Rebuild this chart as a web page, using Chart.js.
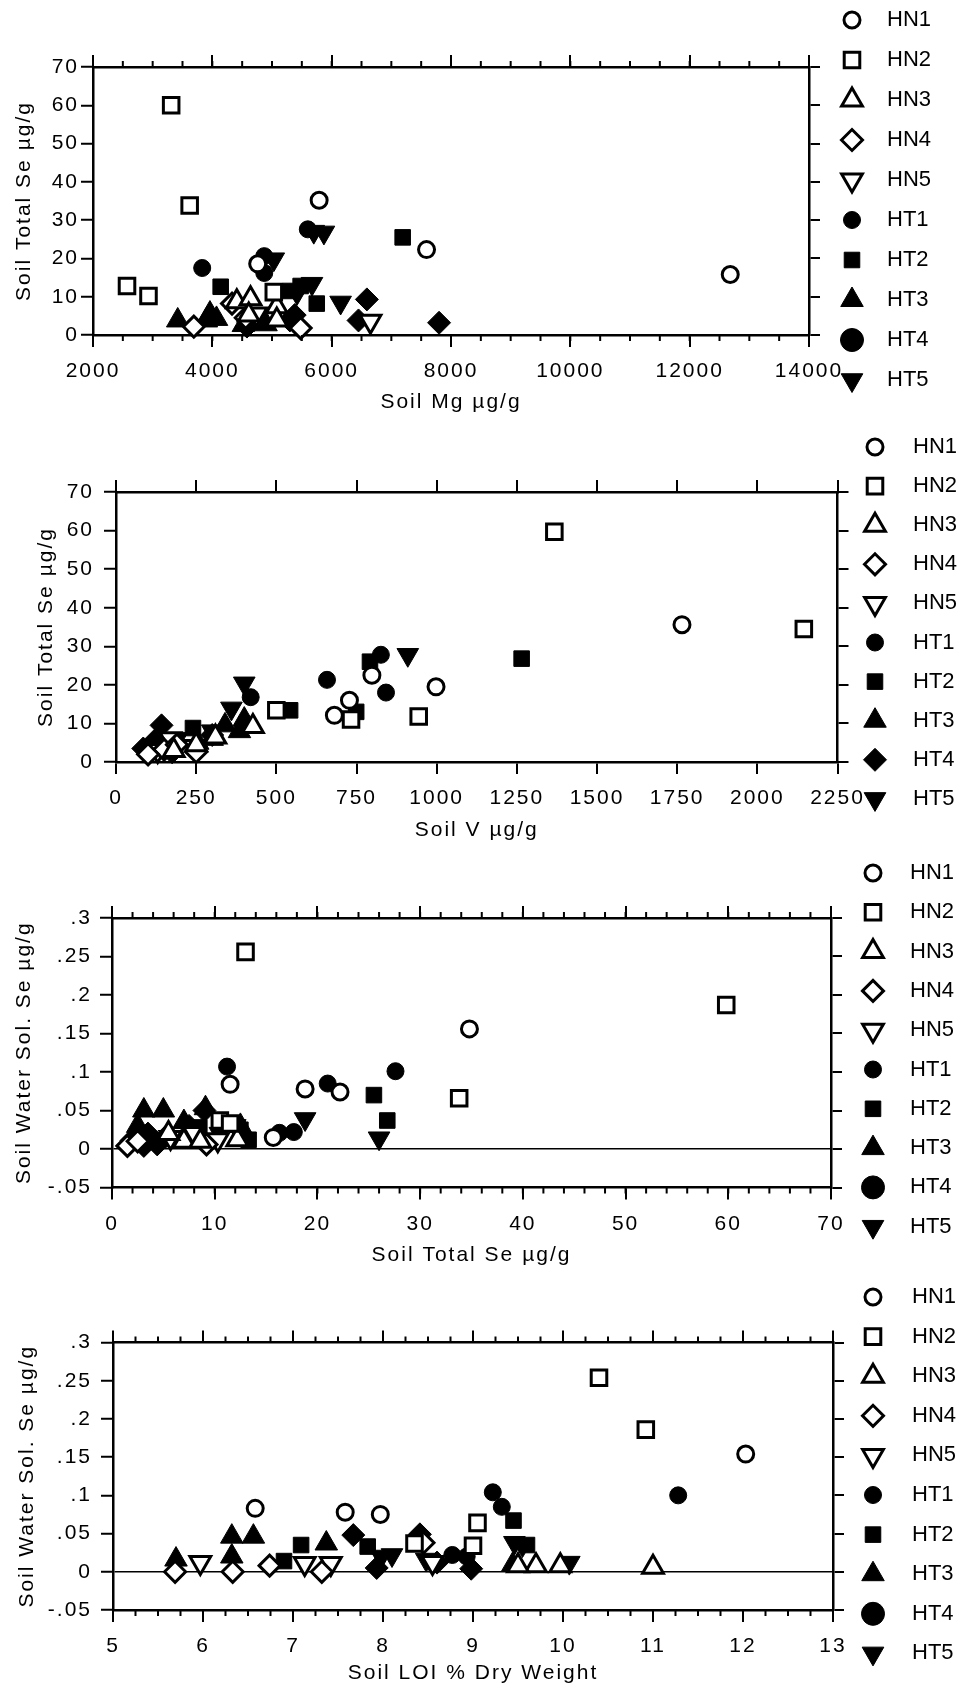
<!DOCTYPE html>
<html>
<head>
<meta charset="utf-8">
<script src="https://cdn.jsdelivr.net/npm/chart.js@4.4.1/dist/chart.umd.min.js"></script>
<style>
  body { margin: 0; background: #fff; }
  canvas { position: absolute; left: 0; }
</style>
</head>
<body>
<canvas id="chart-mg" width="962" height="420" style="top:0px"></canvas>
<canvas id="chart-v" width="962" height="425" style="top:420px"></canvas>
<canvas id="chart-se" width="962" height="425" style="top:845px"></canvas>
<canvas id="chart-loi" width="962" height="420" style="top:1270px"></canvas>
<script>
const seriesNames = ['HN1', 'HN2', 'HN3', 'HN4', 'HN5', 'HT1', 'HT2', 'HT3', 'HT4', 'HT5'];

// soil Mg vs soil total Se
const mgHN1 = [[5790, 35.2], [7590, 22.3], [12680, 15.8], [4760, 18.6]];
const mgHN2 = [[2570, 12.8], [2930, 10.2], [3310, 60], [3620, 33.8], [5030, 11.2]];
const mgHN3 = [[4410, 8.7], [4640, 9.5], [5080, 7.4], [4610, 5.2], [5080, 3.9]];
const mgHN4 = [[3690, 2.2], [4330, 8.2], [5480, 1.8], [4560, 4.5]];
const mgHN5 = [[6650, 3.6], [4740, 5.5]];
const mgHT1 = [[3830, 17.5], [4870, 20.6], [4870, 16.2], [5600, 27.6]];
const mgHT2 = [[4140, 12.6], [5310, 11.5], [5750, 8.2], [7190, 25.5], [5480, 12.8]];
const mgHT3 = [[3420, 3.8], [3960, 5.6], [3900, 3.8], [4070, 4.2], [4520, 2.6], [4900, 2.8]];
const mgHT4 = [[6590, 9.3], [6450, 3.8], [7800, 3.2], [5380, 5.2], [4580, 2.2], [5300, 3.8]];
const mgHT5 = [[5870, 26.8], [5700, 27], [5030, 19.8], [5670, 13.4], [6150, 8.5], [5420, 11]];

// soil V vs soil total Se
const vHN1 = [[681, 12.1], [728, 16], [798, 22.5], [998, 19.5], [1765, 35.6]];
const vHN2 = [[500, 13.4], [733, 11], [944, 11.8], [1367, 59.7], [2145, 34.5]];
const vHN3 = [[427, 9.2], [250, 4.5], [180, 3], [310, 6.5]];
const vHN4 = [[250, 2.6], [150, 3.2], [100, 2], [190, 4.5]];
const vHN5 = [[245, 4], [170, 6], [130, 3]];
const vHT1 = [[658, 21.3], [826, 27.8], [842, 18], [420, 16.8]];
const vHT2 = [[543, 13.4], [749, 13], [792, 26], [1265, 26.8], [240, 8.8]];
const vHT3 = [[300, 6], [385, 8], [255, 5], [110, 3], [340, 9.5], [400, 11]];
const vHT4 = [[142, 9.5], [85, 3.5], [120, 5.5], [175, 2.5], [300, 7]];
const vHT5 = [[400, 20.4], [360, 13.9], [910, 27.8], [300, 8], [190, 6]];

// soil total Se vs soil water soluble Se
const seHN1 = [[34.8, 0.156], [11.5, 0.084], [18.8, 0.078], [22.2, 0.074], [15.7, 0.015]];
const seHN2 = [[13, 0.256], [33.8, 0.066], [59.8, 0.187], [10.5, 0.037], [11.5, 0.033]];
const seHN3 = [[7, 0.01], [8.6, 0.01], [12.2, 0.012], [5.5, 0.02]];
const seHN4 = [[1.5, 0.004], [9.2, 0.006], [2.5, 0.01]];
const seHN5 = [[5.7, 0.015], [10.3, 0.012], [8, 0.02]];
const seHT1 = [[11.2, 0.107], [21, 0.085], [27.6, 0.101], [16.3, 0.021], [17.7, 0.022]];
const seHT2 = [[25.5, 0.07], [26.8, 0.037], [13.3, 0.012], [12.5, 0.025], [8.5, 0.028]];
const seHT3 = [[3.1, 0.05], [5, 0.05], [9.1, 0.053], [7, 0.035], [2.5, 0.03], [12.5, 0.03]];
const seHT4 = [[9, 0.05], [1.9, 0.011], [3.1, 0.004], [4.4, 0.006], [5.3, 0.017], [3.5, 0.02], [7.5, 0.03]];
const seHT5 = [[18.8, 0.039], [26, 0.014], [10.5, 0.02], [12, 0.03], [7.8, 0.025]];

// soil LOI vs soil water soluble Se
const loiHN1 = [[6.58, 0.083], [7.58, 0.078], [7.97, 0.075], [12.03, 0.154]];
const loiHN2 = [[10.4, 0.254], [10.92, 0.186], [9.05, 0.064], [9.0, 0.034], [8.35, 0.037]];
const loiHN3 = [[11.0, 0.006], [9.7, 0.008], [9.97, 0.008], [9.5, 0.008]];
const loiHN4 = [[5.69, 0.0], [6.33, 0.0], [7.32, 0.0], [6.74, 0.008], [8.45, 0.038]];
const loiHN5 = [[5.97, 0.012], [7.13, 0.011], [7.42, 0.011], [8.55, 0.012]];
const loiHT1 = [[9.22, 0.104], [9.32, 0.085], [11.28, 0.1], [8.77, 0.022], [8.93, 0.02]];
const loiHT2 = [[6.9, 0.014], [7.09, 0.035], [7.83, 0.033], [9.45, 0.067], [9.6, 0.035]];
const loiHT3 = [[5.7, 0.016], [6.32, 0.046], [6.56, 0.046], [6.32, 0.02], [7.37, 0.037], [9.44, 0.009]];
const loiHT4 = [[7.67, 0.048], [8.41, 0.049], [7.93, 0.005], [8.98, 0.004], [8.6, 0.012]];
const loiHT5 = [[7.98, 0.02], [8.1, 0.022], [8.48, 0.016], [9.46, 0.038], [10.07, 0.012], [9.55, 0.035]];

// ticks
const mgTicks = [2000, 4000, 6000, 8000, 10000, 12000, 14000];
const mgTickLabels = ['2000', '4000', '6000', '8000', '10000', '12000', '14000'];
const vTicks = [0, 250, 500, 750, 1000, 1250, 1500, 1750, 2000, 2250];
const vTickLabels = ['0', '250', '500', '750', '1000', '1250', '1500', '1750', '2000', '2250'];
const seTicks = [0, 10, 20, 30, 40, 50, 60, 70];
const seTickLabels = ['0', '10', '20', '30', '40', '50', '60', '70'];
const loiTicks = [5, 6, 7, 8, 9, 10, 11, 12, 13];
const loiTickLabels = ['5', '6', '7', '8', '9', '10', '11', '12', '13'];
const wsTicks = [-0.05, 0, 0.05, 0.1, 0.15, 0.2, 0.25, 0.3];
const wsTickLabels = ['-.05', '0', '.05', '.1', '.15', '.2', '.25', '.3'];

const FONT = '"Liberation Sans", Arial, Helvetica, sans-serif';

// marker look per series
const marks = [
  { style: 'circle', r: 8, rot: 0, fill: '#fff', bw: 3 },
  { style: 'rect', r: 11, rot: 0, fill: '#fff', bw: 3 },
  { style: 'triangle', r: 12, rot: 0, fill: '#fff', bw: 3 },
  { style: 'rectRot', r: 10.5, rot: 0, fill: '#fff', bw: 3 },
  { style: 'triangle', r: 12, rot: 180, fill: '#fff', bw: 3 },
  { style: 'circle', r: 8.5, rot: 0, fill: '#000', bw: 1 },
  { style: 'rect', r: 11, rot: 0, fill: '#000', bw: 1 },
  { style: 'triangle', r: 13, rot: 0, fill: '#000', bw: 1 },
  { style: 'rectRot', r: 11.5, rot: 0, fill: '#000', bw: 1 },
  { style: 'triangle', r: 12.5, rot: 180, fill: '#000', bw: 1 }
];
const bigDot = { style: 'circle', r: 11.5, rot: 0, fill: '#000', bw: 1 };

const spacing = {
  id: 'spacing',
  beforeDraw(chart) { chart.ctx.letterSpacing = '2px'; }
};

const minorTicks = {
  id: 'minorTicks',
  afterDraw(chart, args, opts) {
    if (!opts.step) return;
    const { ctx, chartArea: a, scales: { x } } = chart;
    ctx.save();
    ctx.strokeStyle = '#000';
    ctx.lineWidth = 2;
    ctx.beginPath();
    for (let v = x.min; v <= x.max + 1e-9; v += opts.step) {
      const px = x.getPixelForValue(v);
      ctx.moveTo(px, a.top);
      ctx.lineTo(px, a.top - 6);
      ctx.moveTo(px, a.bottom);
      ctx.lineTo(px, a.bottom + 6);
    }
    ctx.stroke();
    ctx.restore();
  }
};

const sideLegend = {
  id: 'sideLegend',
  afterDraw(chart, args, opts) {
    const ctx = chart.ctx;
    ctx.save();
    ctx.letterSpacing = '0px';
    ctx.font = '22px ' + FONT;
    ctx.textBaseline = 'middle';
    seriesNames.forEach((name, i) => {
      const m = (opts.swap && i === 8) ? bigDot : marks[i];
      const y = opts.y0 + i * opts.dy;
      ctx.fillStyle = m.fill;
      ctx.strokeStyle = '#000';
      ctx.lineWidth = m.bw;
      Chart.helpers.drawPoint(ctx, { pointStyle: m.style, radius: m.r, rotation: m.rot, borderWidth: m.bw }, opts.markX, y);
      ctx.fillStyle = '#000';
      ctx.fillText(name, opts.textX, y);
    });
    ctx.restore();
  }
};

function drawPanel(id, g, xa, ya, series) {
  const W = 962;
  const datasets = series.map((pts, i) => ({
    label: seriesNames[i],
    data: pts.map(p => ({ x: p[0], y: p[1] })),
    pointStyle: marks[i].style,
    pointRadius: marks[i].r,
    pointRotation: marks[i].rot,
    pointBackgroundColor: marks[i].fill,
    pointBorderColor: '#000',
    pointBorderWidth: marks[i].bw,
    clip: false
  }));
  const tickFont = { family: FONT, size: 21 };
  const titleFont = { family: FONT, size: 21 };
  const setTicks = vals => s => { s.ticks = vals.map(v => ({ value: v })); };

  new Chart(document.getElementById(id), {
    type: 'scatter',
    data: { datasets },
    options: {
      responsive: false,
      animation: false,
      events: [],
      layout: { padding: { left: 0, top: 0, bottom: 0, right: W - g.right - 11 } },
      plugins: {
        legend: { display: false },
        tooltip: { enabled: false },
        minorTicks: { step: xa.minor },
        sideLegend: { markX: g.markX, textX: g.textX, y0: g.y0, dy: g.dy, swap: g.swap }
      },
      scales: {
        x: {
          type: 'linear', position: 'bottom', min: xa.min, max: xa.max,
          afterBuildTicks: setTicks(xa.ticks),
          afterFit: s => { s.height = g.h - g.bottom; },
          ticks: { callback: (v, i) => xa.labels[i], font: tickFont, color: '#000', padding: g.xPad, maxRotation: 0, autoSkip: false },
          grid: { drawOnChartArea: false, color: '#000', lineWidth: 2, tickLength: 12 },
          border: { color: '#000', width: 2.5 },
          title: { display: true, text: xa.title, font: titleFont, color: '#000', padding: { top: 0, bottom: g.xTitlePad } }
        },
        x2: {
          type: 'linear', position: 'top', min: xa.min, max: xa.max,
          afterBuildTicks: setTicks(xa.ticks),
          afterFit: s => { s.height = g.top; },
          ticks: { display: false },
          grid: { drawOnChartArea: false, color: '#000', lineWidth: 2, tickLength: 12 },
          border: { color: '#000', width: 2.5 }
        },
        y: {
          type: 'linear', position: 'left', min: ya.min, max: ya.max,
          afterBuildTicks: setTicks(ya.ticks),
          afterFit: s => { s.width = g.left; },
          ticks: { callback: (v, i) => ya.labels[i], font: tickFont, color: '#000', padding: g.yPad, autoSkip: false },
          grid: {
            drawOnChartArea: true,
            color: c => (ya.zero && c.tick && c.tick.value === 0) ? '#000' : 'rgba(0,0,0,0)',
            lineWidth: 1.5, tickColor: '#000', tickWidth: 2, tickLength: 12
          },
          border: { color: '#000', width: 2.5 },
          title: { display: true, text: ya.title, font: titleFont, color: '#000', padding: { top: g.yTitlePad, bottom: 0 } }
        },
        y2: {
          type: 'linear', position: 'right', min: ya.min, max: ya.max,
          afterBuildTicks: setTicks(ya.ticks),
          afterFit: s => { s.width = 11; },
          ticks: { display: false },
          grid: { drawOnChartArea: false, color: '#000', lineWidth: 2, tickLength: 11 },
          border: { color: '#000', width: 2.5 }
        }
      }
    },
    plugins: [spacing, minorTicks, sideLegend]
  });
}

const seAxis = { min: 0, max: 70, ticks: seTicks, labels: seTickLabels, title: 'Soil Total Se µg/g', zero: false };
const wsAxis = { min: -0.05, max: 0.3, ticks: wsTicks, labels: wsTickLabels, title: 'Soil Water Sol. Se µg/g', zero: true };

drawPanel('chart-mg',
  { h: 420, top: 67, bottom: 335, left: 93, right: 809, xPad: 12, yPad: 2, xTitlePad: 5, yTitlePad: 12, markX: 852, textX: 887, y0: 20, dy: 40, swap: true },
  { min: 2000, max: 14000, ticks: mgTicks, labels: mgTickLabels, title: 'Soil Mg µg/g', minor: 500 },
  seAxis,
  [mgHN1, mgHN2, mgHN3, mgHN4, mgHN5, mgHT1, mgHT2, mgHT3, mgHT4, mgHT5]);

drawPanel('chart-v',
  { h: 425, top: 72, bottom: 342, left: 116, right: 837.5, xPad: 12, yPad: 10, xTitlePad: 2, yTitlePad: 34, markX: 875, textX: 913, y0: 27, dy: 39.1, swap: false },
  { min: 0, max: 2250, ticks: vTicks, labels: vTickLabels, title: 'Soil V µg/g', minor: 0 },
  seAxis,
  [vHN1, vHN2, vHN3, vHN4, vHN5, vHT1, vHT2, vHT3, vHT4, vHT5]);

drawPanel('chart-se',
  { h: 425, top: 73, bottom: 342.5, left: 112, right: 831, xPad: 12, yPad: 8, xTitlePad: 2, yTitlePad: 12, markX: 873, textX: 910, y0: 28, dy: 39.3, swap: true },
  { min: 0, max: 70, ticks: seTicks, labels: seTickLabels, title: 'Soil Total Se µg/g', minor: 2 },
  wsAxis,
  [seHN1, seHN2, seHN3, seHN4, seHN5, seHT1, seHT2, seHT3, seHT4, seHT5]);

drawPanel('chart-loi',
  { h: 420, top: 72.5, bottom: 340, left: 113, right: 833, xPad: 12, yPad: 9, xTitlePad: 4, yTitlePad: 15, markX: 873, textX: 912, y0: 27, dy: 39.6, swap: true },
  { min: 5, max: 13, ticks: loiTicks, labels: loiTickLabels, title: 'Soil LOI % Dry Weight', minor: 0.25 },
  wsAxis,
  [loiHN1, loiHN2, loiHN3, loiHN4, loiHN5, loiHT1, loiHT2, loiHT3, loiHT4, loiHT5]);
</script>
</body>
</html>
